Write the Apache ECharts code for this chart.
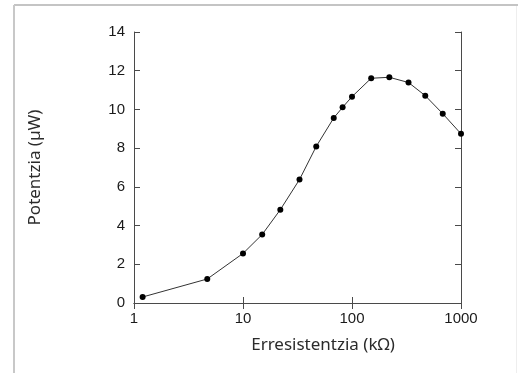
<!DOCTYPE html>
<html>
<head>
<meta charset="utf-8">
<script src="https://cdn.jsdelivr.net/npm/echarts@6/dist/echarts.min.js"></script>
<style>
  html, body { margin: 0; padding: 0; background: #fff; }
  #chart { width: 518px; height: 373px; }
</style>
</head>
<body>
<div id="chart"></div>
<script>
// erresistentzia (kΩ) eta potentzia (µW)
const resistance = [1.2, 4.7, 10, 15, 22, 33, 47, 68, 82, 100, 150, 220, 330, 470, 680, 1000];
const power = [0.31, 1.24, 2.56, 3.54, 4.82, 6.38, 8.09, 9.56, 10.11, 10.66, 11.61, 11.66, 11.39, 10.71, 9.78, 8.74];
const yTicks = [0, 2, 4, 6, 8, 10, 12, 14];

const axisColor = '#4a4a4a';
const labelFont = 'Liberation Sans';

const chart = echarts.init(document.getElementById('chart'));

// ticks pointing into the plot
const tickStyle = {show: true, inside: false, length: -6, lineStyle: {color: axisColor, width: 1}};

const option = {
  animation: false,
  grid: {
    left: 134,
    right: 57,
    top: 32,
    bottom: 70
  },
  graphic: [
    {type: 'line', shape: {x1: 14, y1: 5, x2: 518, y2: 5}, style: {stroke: '#c4c4c4', lineWidth: 2}},
    {type: 'line', shape: {x1: 14, y1: 5, x2: 14, y2: 373}, style: {stroke: '#c8c8c8', lineWidth: 2}},
    {type: 'line', shape: {x1: 516.5, y1: 6, x2: 516.5, y2: 373}, style: {stroke: '#eeeeee', lineWidth: 1}}
  ],
  xAxis: [
    {
      type: 'log',
      logBase: 10,
      min: 1,
      max: 1000,
      name: 'Erresistentzia (kΩ)',
      nameLocation: 'middle',
      nameGap: 34,
      nameTextStyle: {
        fontFamily: 'Noto Sans',
        fontSize: 17,
        color: '#2b2b2b',
        padding: [0, 0, 0, 51]
      },
      axisLine: {lineStyle: {color: axisColor, width: 1}},
      axisTick: tickStyle,
      minorTick: {show: false},
      axisLabel: {
        fontFamily: labelFont,
        fontSize: 15,
        color: '#1a1a1a',
        margin: 8,
        formatter: v => String(v)
      },
      splitLine: {show: false}
    },
    {
      type: 'log',
      logBase: 10,
      min: 1,
      max: 1000,
      position: 'top',
      axisLine: {lineStyle: {color: axisColor, width: 1}},
      axisTick: tickStyle,
      axisLabel: {show: false},
      splitLine: {show: false}
    }
  ],
  yAxis: [
    {
      type: 'value',
      min: yTicks[0],
      max: yTicks[yTicks.length - 1],
      interval: 2,
      name: 'Potentzia (µW)',
      nameLocation: 'middle',
      nameGap: 90,
      nameTextStyle: {
        fontFamily: 'Noto Sans',
        fontSize: 17,
        color: '#2b2b2b'
      },
      axisLine: {show: true, lineStyle: {color: axisColor, width: 1}},
      axisTick: tickStyle,
      axisLabel: {
        fontFamily: labelFont,
        fontSize: 15,
        color: '#1a1a1a',
        margin: 9
      },
      splitLine: {show: false}
    },
    {
      type: 'value',
      min: yTicks[0],
      max: yTicks[yTicks.length - 1],
      interval: 2,
      position: 'right',
      axisLine: {show: true, lineStyle: {color: axisColor, width: 1}},
      axisTick: tickStyle,
      axisLabel: {show: false},
      splitLine: {show: false}
    }
  ],
  series: [
    {
      type: 'line',
      data: resistance.map((r, i) => [r, power[i]]),
      lineStyle: {color: '#333333', width: 1},
      symbol: 'circle',
      symbolSize: 6,
      itemStyle: {color: '#000000'},
      clip: false
    }
  ]
};

if (option) {
  chart.setOption(option);
}
</script>
</body>
</html>
